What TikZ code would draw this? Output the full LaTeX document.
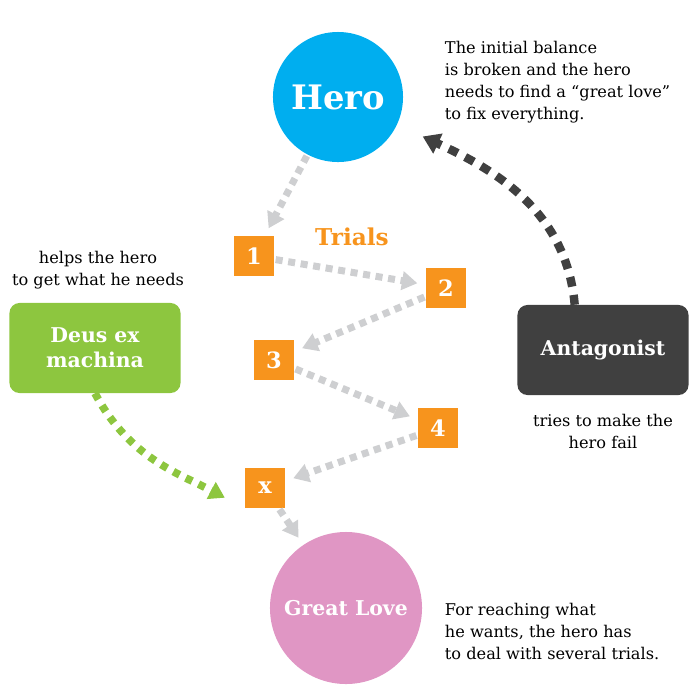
\documentclass[tikz,border=0pt]{standalone}
\usepackage{fontspec}
\setmainfont{DejaVu Serif}
\usepackage{tikz}
\usetikzlibrary{arrows.meta,positioning,shapes.geometric}
\definecolor{cvhero}{RGB}{0,174,239}
\definecolor{cvlove}{RGB}{224,150,196}
\definecolor{cvdeus}{RGB}{141,198,63}
\definecolor{cvanta}{RGB}{64,64,64}
\definecolor{cvtrial}{RGB}{247,148,29}
\definecolor{cvpath}{RGB}{206,207,209}

\begin{document}
\begin{tikzpicture}[x=0.025cm,y=-0.025cm,
  actor/.style={circle,inner sep=0pt,text=white,font=\bfseries\fontsize{14.5}{18}\selectfont},
  role/.style={draw=none,rounded corners=0.25cm,minimum width=4.275cm,minimum height=2.25cm,
               align=center,text=white,font=\bfseries\fontsize{14.5}{18}\selectfont},
  trial/.style={fill=cvtrial,minimum size=1cm,inner sep=0pt,text=white,
                font=\bfseries\fontsize{16}{18}\selectfont},
  note/.style={align=left,font=\fontsize{11.5}{15.6}\selectfont},
  dep/.style={draw=cvpath,line width=5pt,dash pattern=on 5pt off 4pt,
              -{Triangle[length=11pt,width=13pt]},shorten <=1pt,shorten >=6pt},
  antdep/.style={draw=cvanta,line width=6pt,dash pattern=on 7pt off 6pt,
              -{Triangle[length=12pt,width=15pt]}},
  deusdep/.style={draw=cvdeus,line width=5.5pt,dash pattern=on 5pt off 5pt,
              -{Triangle[length=11pt,width=13pt]}}
]
\useasboundingbox (0,0) rectangle (700,700);
% actors
\node[actor,fill=cvhero,minimum size=3.25cm,font=\bfseries\fontsize{24}{28}\selectfont] (hero) at (338,97) {Hero};
\node[actor,fill=cvlove,minimum size=3.8cm] (love) at (346,608) {Great Love};
\node[role,fill=cvdeus] (deus) at (95,348) {Deus ex\\machina};
\node[role,fill=cvanta] (anta) at (603,350) {Antagonist};
% trials
\node[trial] (t1) at (254,256) {1};
\node[trial] (t2) at (446,288) {2};
\node[trial] (t3) at (274,360) {3};
\node[trial] (t4) at (438,428) {4};
\node[trial] (tx) at (265,488) {x};
\node[text=cvtrial,font=\bfseries\fontsize{16.5}{18}\selectfont] (trials) at (352,237) {Trials};
% notes
\node[note,anchor=north west] (herotxt) at (440,36)
  {The initial balance\\is broken and the hero\\needs to find a “great love”\\to fix everything.};
\node[note,align=center] (deustxt) at (98,270) {helps the hero\\to get what he needs};
\node[note,align=center] (antatxt) at (603,431) {tries to make the\\hero fail};
\node[note,anchor=north west] (lovetxt) at (440,598)
  {For reaching what\\he wants, the hero has\\to deal with several trials.};
% connectors
\draw[dep] (hero)--(t1);
\draw[dep] (t1)--(t2);
\draw[dep] (t2)--(t3);
\draw[dep] (t3)--(t4);
\draw[dep] (t4)--(tx);
\draw[dep] (tx)--(love);
\draw[antdep,shorten >=20pt] (anta.122) to[out=95,in=-25] (hero);
\draw[deusdep,shorten >=16pt] (deus.south) to[out=-62,in=152] (tx.south west);
\end{tikzpicture}
\end{document}
